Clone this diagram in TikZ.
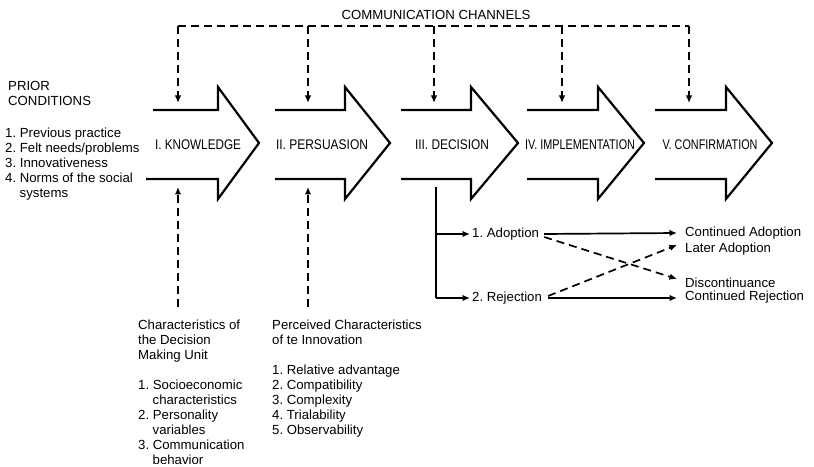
\documentclass[tikz,border=0pt]{standalone}
\usepackage{fontspec}
\setmainfont{Liberation Sans}
\usetikzlibrary{arrows.meta}
\frenchspacing
\begin{document}
\begin{tikzpicture}[x=1pt,y=1pt,
  bigarrow/.style={line width=2.2pt, line join=miter, line cap=butt},
  dsh/.style={line width=1.7pt, dash pattern=on 8pt off 5pt},
  tip/.style={-{Latex[length=7.5pt,width=6.5pt]}},
  solidln/.style={line width=1.7pt},
  txt/.style={font=\fontsize{13.2}{15}\selectfont, inner sep=0pt, align=left},
  lbl/.style={font=\fontsize{14}{16}\selectfont, inner sep=0pt, anchor=base},
]
\useasboundingbox (0,0) rectangle (814,466);
% ---- big stage arrows
\draw[bigarrow] (153,356) -- (218,356) -- (218,379) -- (259,323) -- (218,267) -- (218,287) -- (146,287);
\draw[bigarrow] (275,356) -- (345,356) -- (345,379) -- (390,323) -- (345,267) -- (345,287) -- (275,287);
\draw[bigarrow] (401,356) -- (471,356) -- (471,379) -- (518,323) -- (471,267) -- (471,287) -- (401,287);
\draw[bigarrow] (527,356) -- (598,356) -- (598,379) -- (644,323) -- (598,267) -- (598,287) -- (527,287);
\draw[bigarrow] (655,356) -- (726,356) -- (726,379) -- (772,323) -- (726,267) -- (726,287) -- (655,287);
\node[lbl] (know) at (198,316) {\resizebox{86pt}{\height}{I. KNOWLEDGE}};
\node[lbl] (pers) at (322,316) {\resizebox{92pt}{\height}{II. PERSUASION}};
\node[lbl] (deci) at (452,316) {\resizebox{74pt}{\height}{III. DECISION}};
\node[lbl] (impl) at (580,316) {\resizebox{110pt}{\height}{IV. IMPLEMENTATION}};
\node[lbl] (conf) at (710,316) {\resizebox{95pt}{\height}{V. CONFIRMATION}};
% ---- inlet points
\coordinate (know-in) at (178,363);
\coordinate (pers-in) at (308,363);
\coordinate (deci-in) at (434,363);
\coordinate (impl-in) at (562,363);
\coordinate (conf-in) at (689,363);
\coordinate (know-out) at (178,279);
\coordinate (pers-out) at (308,279);
\coordinate (deci-out) at (436,279);
% ---- communication channels
\node[txt, anchor=base] (cc) at (436,446) {COMMUNICATION CHANNELS};
\coordinate (cc-l) at (178,440);
\coordinate (cc-r) at (689,440);
\draw[dsh] (cc-l) -- (cc-r);
\draw[dsh,tip] (cc-l) -- (know-in);
\draw[dsh,tip] (pers-in |- cc-l) -- (pers-in);
\draw[dsh,tip] (deci-in |- cc-l) -- (deci-in);
\draw[dsh,tip] (impl-in |- cc-l) -- (impl-in);
\draw[dsh,tip] (cc-r) -- (conf-in);
% ---- prior conditions
\node[txt, anchor=north west] (prior) at (8,384.5) {PRIOR\\CONDITIONS};
\node[txt, anchor=north west] (prlist) at (5,338.5) {1. Previous practice\\2. Felt needs/problems\\3. Innovativeness\\4. Norms of the social\\\hspace*{14.5pt}systems};
% ---- bottom blocks
\node[txt, anchor=north west] (dmu) at (138,146.5) {Characteristics of\\the Decision\\Making Unit\\[15pt]1. Socioeconomic\\\hspace*{14.5pt}characteristics\\2. Personality\\\hspace*{14.5pt}variables\\3. Communication\\\hspace*{14.5pt}behavior};
\node[txt, anchor=north west] (pci) at (272,146.5) {Perceived Characteristics\\of te Innovation\\[15pt]1. Relative advantage\\2. Compatibility\\3. Complexity\\4. Trialability\\5. Observability};
\coordinate (dmu-top) at (178,159);
\coordinate (pci-top) at (308,159);
\draw[dsh,tip] (dmu-top) -- (know-out);
\draw[dsh,tip] (pci-top) -- (pers-out);
% ---- decision outcomes
\node[txt, anchor=west] (adopt) at (472,232) {1. Adoption};
\node[txt, anchor=west] (reject) at (472,168) {2. Rejection};
\draw[solidln] (deci-out) -- (deci-out |- reject.west);
\draw[solidln,tip,shorten >=2pt] (deci-out |- adopt.west) -- (adopt.west);
\draw[solidln,tip,shorten >=2pt] (deci-out |- reject.west) -- (reject.west);
\node[txt, anchor=west] (contA) at (685,233) {Continued Adoption};
\node[txt, anchor=west] (later) at (685,217) {Later Adoption};
\node[txt, anchor=west] (disc) at (685,183) {Discontinuance};
\node[txt, anchor=west] (contR) at (685,169) {Continued Rejection};
\draw[solidln,tip] ([xshift=5pt]adopt.east) -- ([xshift=-8pt]contA.west);
\draw[dsh,tip] ([xshift=5pt,yshift=-3pt]adopt.east) -- ([xshift=-8pt,yshift=4pt]disc.west);
\draw[dsh,tip] ([xshift=6pt,yshift=2pt]reject.east) -- ([xshift=-8pt,yshift=4pt]later.west);
\draw[solidln,tip] ([xshift=6pt]reject.east) -- ([xshift=-8pt]contR.west |- reject.east);
\end{tikzpicture}
\end{document}
